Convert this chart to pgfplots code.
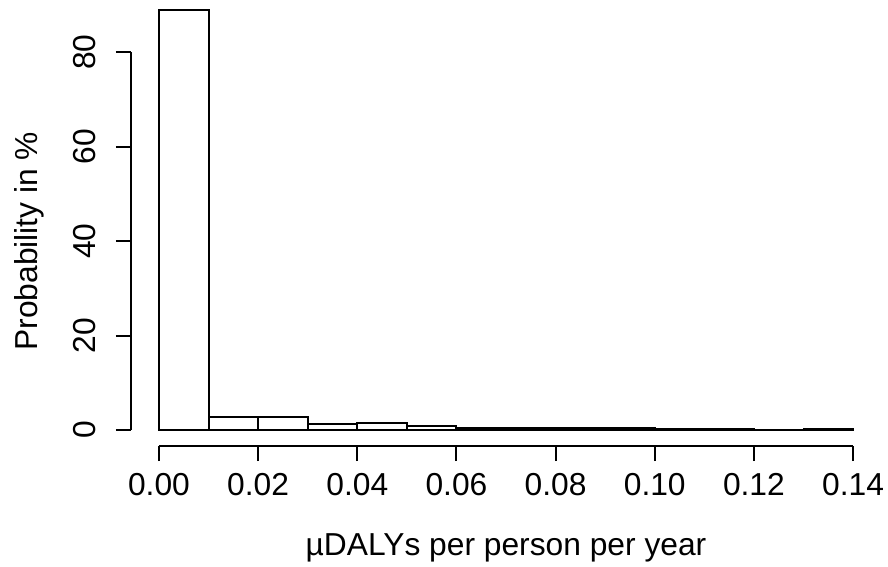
\documentclass[border=0pt]{standalone}
\usepackage{pgfplots}
\pgfplotsset{compat=1.18}
\usepackage{fontspec}
\setmainfont{Liberation Sans}
\begin{document}
\begin{tikzpicture}
\begin{axis}[
  at={(0,0)}, anchor=south west,
  scale only axis,
  width=272.9pt, height=164.8pt,
  xmin=-0.00565, xmax=0.14,
  ymin=-3.39, ymax=88.9,
  clip=false,
  axis x line*=bottom, axis y line*=left,
  axis line style={draw=none},
  font=\fontsize{12}{14}\selectfont,
  /pgf/number format/assume math mode=true,
  xtick={0,0.02,0.04,0.06,0.08,0.10,0.12,0.14},
  ytick={0,20,40,60,80},
  xticklabel={\pgfmathprintnumber[fixed,fixed zerofill,precision=2]{\tick}},
  yticklabel={\pgfmathprintnumber[fixed,precision=0]{\tick}},
  tick align=outside,
  major tick length=5.67pt,
  every tick/.style={black, line width=0.75pt},
  xticklabel style={yshift=-1.2pt},
  yticklabel style={rotate=90, anchor=south, inner ysep=7.4pt},
  every axis x label/.style={at={(axis description cs:0.5194,-0.25)}, anchor=base},
  every axis y label/.style={at={(axis description cs:-0.1295,0.470)}, rotate=90, anchor=base},
  xlabel={µDALYs per person per year},
  ylabel={Probability in \%},
]
\addplot[ybar interval, fill=white, draw=black, line width=0.75pt] coordinates {
(0.00,88.9) (0.01,2.8) (0.02,2.7) (0.03,1.35) (0.04,1.55) (0.05,0.85) (0.06,0.5)
(0.07,0.5) (0.08,0.45) (0.09,0.35) (0.10,0.2) (0.11,0.2) (0.12,0.05) (0.13,0.2) (0.14,0.2)
};
\draw[line width=0.75pt] (axis cs:0,-3.39) -- (axis cs:0.14,-3.39);
\draw[line width=0.75pt] (axis cs:-0.00565,0) -- (axis cs:-0.00565,80);
\end{axis}
\pgfresetboundingbox
\path (-49.5pt,-45.4pt) rectangle (286.1pt,168.6pt);
\end{tikzpicture}
\end{document}
